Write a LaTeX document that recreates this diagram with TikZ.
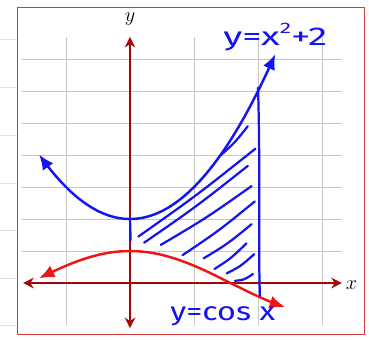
\documentclass[tikz,border=0pt]{standalone}
\usepackage{fontspec}
\newfontfamily\handfont{Fira Sans}
\usepackage{tikz}
\usetikzlibrary{arrows.meta}
\definecolor{axisred}{HTML}{A00808}
\definecolor{penblue}{HTML}{1414F0}
\definecolor{penred}{HTML}{F01414}
\definecolor{framered}{HTML}{D03C3C}
\tikzset{
  gridline/.style   = {draw=black!22, line width=0.6pt},     % light squares
  pageline/.style   = {draw=black!12, line width=0.6pt},     % paper behind
  axis/.style       = {axisred, line width=1.6pt,
                       {Stealth[length=9pt,width=9pt]}-{Stealth[length=9pt,width=9pt]}},
  curve/.style      = {line width=2.1pt, smooth, samples=60,
                       {Latex[length=13pt,width=11pt]}-{Latex[length=13pt,width=11pt]}},
  hatch/.style      = {penblue, line width=1.9pt, line cap=round},
  axislabel/.style  = {font=\fontsize{17}{17}\selectfont, inner sep=0pt},
  handlabel/.style  = {penblue, font=\handfont\fontsize{22}{22}\selectfont, inner sep=0pt}
}
\begin{document}
\begin{tikzpicture}[x=1.92cm, y=0.96cm]
  \useasboundingbox (-2.03125,-1.75) rectangle (3.734,8.84375);
  % paper lines left of the frame
  \foreach \h in {7.625,6.125,4.625,3.125,1.656,0.156,-1.31}
    \draw[pageline] (-2.03125,\h) -- (-1.76,\h);
  \draw[framered, line width=0.8pt] (-1.758,-1.594) rectangle (3.656,8.61);
  % grid
  \foreach \h in {1,...,7}
    \draw[gridline] (-1.68,\h) -- (3.31,\h);
  \foreach \v in {-1,1,2,3}
    \draw[gridline] (\v,-1.31) -- (\v,7.69);
  % axes
  \draw[axis] (-1.67,0) -- (3.31,0);
  \draw[axis] (0,-1.41) -- (0,7.69);
  \node[axislabel] (ylab) at (0,8.25) {$y$};
  \node[axislabel] (xlab) at (3.46,-0.08) {$x$};
  % the two curves
  \draw[curve, penred, domain=-1.42:2.42] plot (\x,{cos(\x r)});
  \draw[curve, penblue, domain=-1.42:2.27] plot (\x,{\x*\x+2});
  % shaded region, by hand
  \draw[hatch] (0,2) -- (0.01,1.34);
  \draw[hatch] (2.0,6.1) .. controls (2.04,3.5) and (2.0,1.2) .. (2.03,-0.4);
  \foreach \a/\b/\c/\d in {1.42/4.0/1.84/4.9, 0.13/1.45/1.96/4.2,
                           0.22/1.26/1.84/3.66, 0.48/1.19/1.9/3.03,
                           0.82/0.87/1.95/2.55, 1.15/0.77/1.9/1.84,
                           1.32/0.44/1.82/1.24, 1.51/0.30/1.94/0.9,
                           1.64/0.07/1.92/0.28}
    \draw[hatch] (\a,\b) .. controls ({(\a+\c)/2},{(\b+\d)/2-0.08}) .. (\c,\d);
  \node[handlabel] (parab) at (2.27,7.68) {\scalebox{1.5}[1]{y=x\raisebox{0.85ex}{\fontsize{13}{13}\selectfont 2}+2}};
  \node[handlabel] (cosl)  at (1.45,-1.03) {\scalebox{1.25}[1]{y=cos x}};
\end{tikzpicture}
\end{document}
